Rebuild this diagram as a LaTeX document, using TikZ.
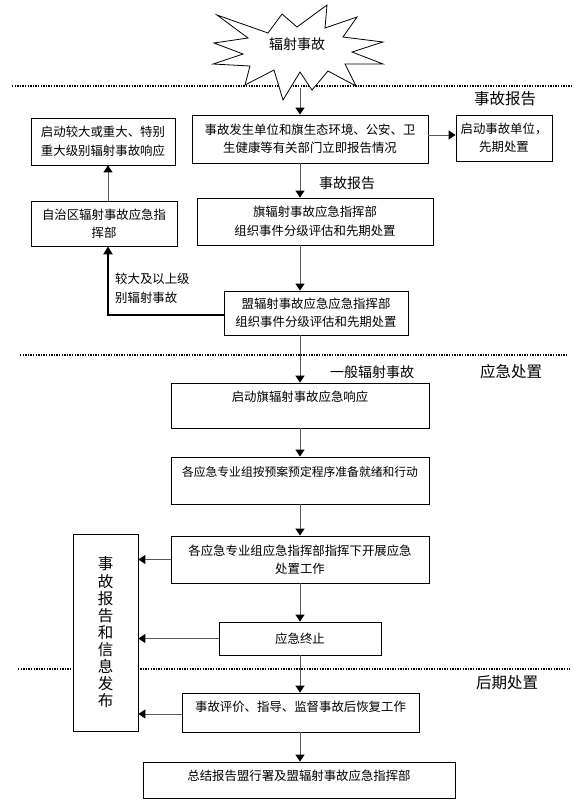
\documentclass[tikz,border=0pt]{standalone}
\usepackage{fontspec}
\newfontfamily\cjk{Noto Sans CJK SC}
\usetikzlibrary{arrows.meta}
\begin{document}
\begin{tikzpicture}[x=1pt,y=-1pt,
  box/.style={draw=black,line width=0.8pt,fill=white,inner sep=0pt,align=center,
    font=\cjk\fontsize{12.4}{18.5}\selectfont},
  txt/.style={inner sep=0pt,align=center,font=\cjk\fontsize{12.4}{18.5}\selectfont},
  big/.style={inner sep=0pt,font=\cjk\fontsize{15.5}{18}\selectfont},
  mid/.style={inner sep=0pt,font=\cjk\fontsize{14}{18}\selectfont},
  conn/.style={draw=black!65,line width=1pt,-{Triangle[width=9pt,length=7pt,color=black]}},
  thickconn/.style={draw=black,line width=2pt,-{Triangle[width=9pt,length=8pt,color=black]}},
  dotline/.style={line width=1.3pt,dash pattern=on 1.3pt off 1.3pt}]
\useasboundingbox (0,0) rectangle (587,812);
\fill[white] (0,0) rectangle (587,812);
% section separators
\draw[dotline] (12,86) -- (572,86);
\draw[dotline] (20,355) -- (568,355);
\draw[dotline] (18,669) -- (570,669);
% starburst
\draw[line width=0.8pt,fill=white] (217,15) -- (268,33) -- (282,14) -- (297,27) -- (327,5)
  -- (325,28) -- (357,17) -- (343,37) -- (383,42) -- (352,52) -- (383,64) -- (345,64)
  -- (356,86) -- (328,71) -- (312,90) -- (300,72) -- (283,100) -- (274,70) -- (245,85)
  -- (250,66) -- (213,64) -- (243,54) -- (214,43) -- (248,38) -- cycle;
\node[mid] (start) at (297,44) {辐射事故};
\coordinate (startbot) at (300,88);
\coordinate (spine) at (300,0);
\coordinate (lx) at (108,0);
% boxes
\node[box,minimum width=236pt,minimum height=48pt] (A) at (310,139)
  {事故发生单位和旗生态环境、公安、卫\\生健康等有关部门立即报告情况};
\node[box,minimum width=96pt,minimum height=46pt] (B) at (504,138)
  {启动事故单位，\\先期处置};
\node[box,minimum width=144pt,minimum height=47pt] (C) at (103,141.5)
  {启动较大或重大、特别\\重大级别辐射事故响应};
\node[box,minimum width=146pt,minimum height=45pt] (D) at (104,223.5)
  {自治区辐射事故应急指\\挥部};
\node[box,minimum width=236pt,minimum height=47pt] (E) at (315,221.5)
  {旗辐射事故应急指挥部\\组织事件分级评估和先期处置};
\node[box,minimum width=184pt,minimum height=44pt] (F) at (316,313)
  {盟辐射事故应急应急指挥部\\组织事件分级评估和先期处置};
\node[box,minimum width=258pt,minimum height=45pt] (G) at (300,405.5) {};
\node[txt] at (300,397) {启动旗辐射事故应急响应};
\node[box,minimum width=258pt,minimum height=47pt] (H) at (300,480.5) {};
\node[txt,font=\cjk\fontsize{11.8}{18}\selectfont] at (300,472) {各应急专业组按预案预定程序准备就绪和行动};
\node[box,minimum width=258pt,minimum height=47pt] (I) at (300,559.5)
  {各应急专业组应急指挥部指挥下开展应急\\处置工作};
\node[box,minimum width=162pt,minimum height=33pt] (J) at (300,638.5) {应急终止};
\node[box,minimum width=237pt,minimum height=39pt] (K) at (300.5,712.5) {};
\node[txt] at (300.5,707) {事故评价、指导、监督事故后恢复工作};
\node[box,minimum width=312pt,minimum height=36pt] (L) at (299,780) {};
\node[txt] at (299,776) {总结报告盟行署及盟辐射事故应急指挥部};
\node[box,minimum width=65pt,minimum height=197pt,font=\cjk\fontsize{15.5}{17.1}\selectfont]
  (R) at (105.5,632.5) {事\\故\\报\\告\\和\\信\\息\\发\\布};
% labels
\node[big] at (505,99) {事故报告};
\node[mid] at (347,183) {事故报告};
\node[txt,align=left,anchor=west] at (115,288.5) {较大及以上级\\别辐射事故};
\node[mid] at (372,372) {一般辐射事故};
\node[big] at (511,372) {应急处置};
\node[big] at (507,683) {后期处置};
% connectors
\draw[conn] (startbot) -- (A.north -| spine);
\draw[conn] (A.east |- 0,135) -- (B.west |- 0,135);
\draw[conn] (A.south -| spine) -- (E.north -| spine);
\draw[conn] (E.south -| spine) -- (F.north -| spine);
\draw[thickconn] ([yshift=-2pt]F.west) -| (D.south -| lx);
\draw[conn] (D.north -| lx) -- (C.south -| lx);
\draw[conn] (F.south -| spine) -- (G.north -| spine);
\draw[conn] (G.south -| spine) -- (H.north -| spine);
\draw[conn] (H.south -| spine) -- (I.north -| spine);
\draw[conn] (I.south -| spine) -- (J.north -| spine);
\draw[conn] (J.south -| spine) -- (K.north -| spine);
\draw[conn] (K.south -| spine) -- (L.north -| spine);
\draw[conn] (I.west) -- (I.west -| R.east);
\draw[conn] (J.west) -- (J.west -| R.east);
\draw[conn] ([yshift=-1.5pt]K.west) -- ([yshift=-1.5pt]K.west -| R.east);
\end{tikzpicture}
\end{document}
